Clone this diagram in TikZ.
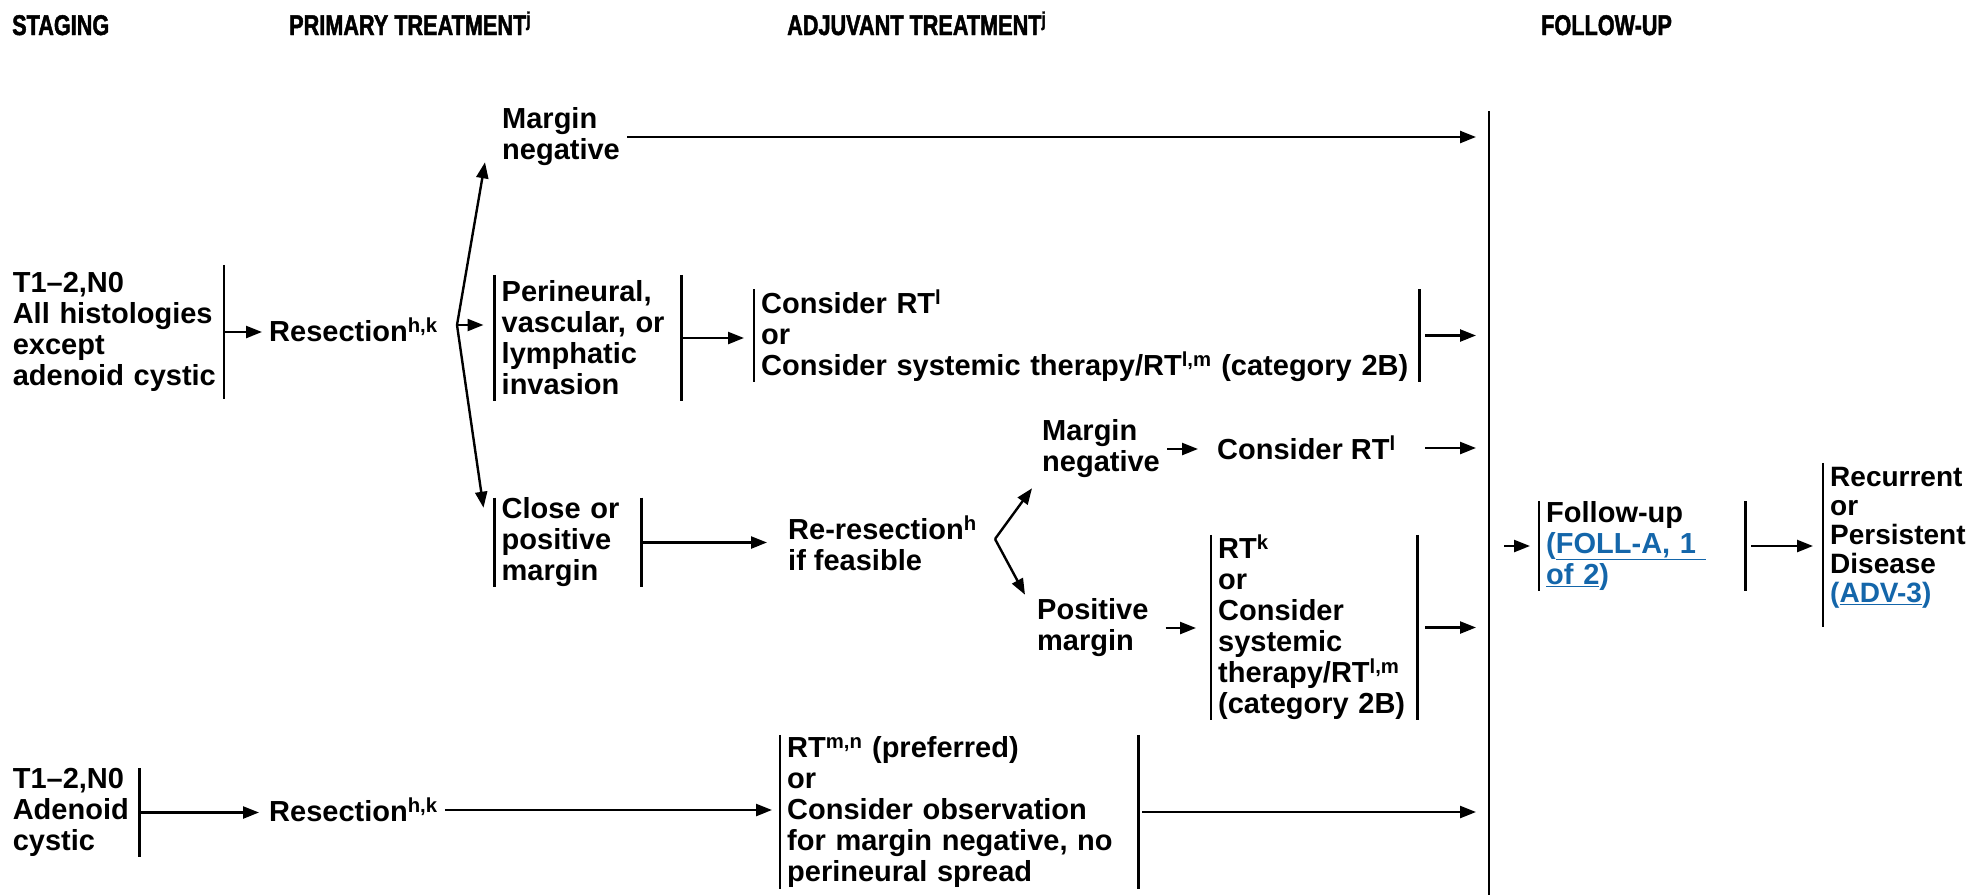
\documentclass[tikz,border=0pt]{standalone}
\usepackage{fontspec}
\setmainfont{Liberation Sans}
\newfontfamily\headfont[FakeStretch=0.76,FakeBold=1.6]{Liberation Sans Bold}
\usepackage{tikz}
\usetikzlibrary{arrows.meta,positioning,calc}
\hyphenpenalty=10000
\exhyphenpenalty=10000
\definecolor{ink}{HTML}{000000}
\definecolor{link}{HTML}{1466AA}
\tikzset{
  txt/.style   ={anchor=west,align=left,inner xsep=7pt,inner ysep=0pt,
                 font=\fontsize{29}{31}\selectfont\bfseries},
  panel/.style ={txt,text width=#1},
  head/.style  ={anchor=base west,inner sep=0pt,font=\headfont\fontsize{28.5}{30}\selectfont},
  bar/.style   ={line width=2.3pt,draw=ink},
  flow/.style  ={-{Triangle[length=16pt,width=12pt]},line width=2.4pt,draw=ink},
  spine/.style ={line width=2.6pt,draw=ink}
}
\newcommand{\lnk}[1]{\textcolor{link}{#1}}

\begin{document}
\begin{tikzpicture}[x=1pt,y=-1pt]
  \useasboundingbox (0,0) rectangle (1978,895);
  % column heads
  \node[head] (hstage) at (12,35) {STAGING};
  \node[head] (hprim) at (289,35) {PRIMARY TREATMENT\textsuperscript{j}};
  \node[head] (hadj) at (787,35) {ADJUVANT TREATMENT\textsuperscript{j}};
  \node[head] (hfol) at (1541,35) {FOLLOW-UP};

  % all histologies except adenoid cystic
  \node[panel=208,inner xsep=3pt,minimum height=134] (stA) at (9.6,332)
    {T1--2,N0\\All histologies\\except\\adenoid cystic};
  \node[txt] (resA) at (262,330) {Resection\textsuperscript{h,k}};
  \node[txt] (mneg1) at (495,137) {Margin\\negative};
  \node[panel=172.5,minimum height=126] (peri) at (494.5,338)
    {Perineural,\\vascular, or\\lymphatic\\invasion};
  \node[panel=651,minimum height=91] (crt) at (754,335.5)
    {Consider RT\textsuperscript{l}\\or\\Consider systemic therapy/RT\textsuperscript{l,m} (category 2B)};
  \node[panel=132.5,minimum height=89] (close) at (494.5,542.5)
    {Close or\\positive\\margin};
  \node[txt] (reres) at (781,543) {Re-resection\textsuperscript{h}\\if feasible};
  \node[txt] (mneg2) at (1035,449) {Margin\\negative};
  \node[txt] (crtl) at (1210,448) {Consider RT\textsuperscript{l}};
  \node[txt] (pos) at (1030,628) {Positive\\margin};
  \node[panel=192,minimum height=183] (rtk) at (1211,627.5)
    {RT\textsuperscript{k}\\or\\Consider\\systemic\\therapy/RT\textsuperscript{l,m}\\(category 2B)};

  % adenoid cystic
  \node[panel=123.4,inner xsep=3pt,minimum height=81] (stB) at (9.6,812.5)
    {T1--2,N0\\Adenoid\\cystic};
  \node[txt] (resB) at (262,810) {Resection\textsuperscript{h,k}};
  \node[panel=344,minimum height=154] (adj) at (780,812)
    {RT\textsuperscript{m,n} (preferred)\\or\\Consider observation\\for margin negative, no\\perineural spread};

  % follow-up
  \node[panel=192,minimum height=82] (fu) at (1539,546)
    {Follow-up\\\lnk{(\underline{FOLL-A, 1 }}\\\lnk{\underline{of 2})}};
  \node[txt,font=\fontsize{28}{29}\selectfont\bfseries,minimum height=164] (rec) at (1823,545)
    {Recurrent\\or\\Persistent\\Disease\\\lnk{(\underline{ADV-3})}\rule[-20pt]{0pt}{1pt}};

  % side bars
  \foreach \n in {peri,crt,close,rtk,adj,fu}
    \draw[bar] (\n.north west) -- (\n.south west) (\n.north east) -- (\n.south east);
  \foreach \n in {stA,stB}
    \draw[bar] (\n.north east) -- (\n.south east);
  \draw[bar] (rec.north west) -- (rec.south west);

  \coordinate (spineTop) at (1489,111);
  \coordinate (spineBot) at (1489,895);
  \coordinate (into) at (1476,0);
  \coordinate (outx) at (1425,0);
  \coordinate (fanA) at (457,325);
  \coordinate (fanB) at (995,539);

  \draw[spine] (spineTop) -- (spineBot);
  \draw[flow] (mneg1.east) -- (mneg1.east -| into);
  \draw[flow] (stA.east) -- (stA.east -| resA.west);
  \draw[flow] (fanA) -- ([xshift=-10pt,yshift=4pt]mneg1.south west);
  \draw[flow] (fanA) -- ([xshift=-11pt,yshift=-10pt]close.north west);
  \draw[flow,shorten >=11pt] (fanA) -- (fanA -| peri.west);
  \draw[flow,shorten >=10pt] (peri.east) -- (peri.east -| crt.west);
  \draw[flow] (crt.east -| outx) -- (crt.east -| into);
  \draw[flow,shorten >=12pt] (mneg2.east) -- (mneg2.east -| crtl.west);
  \draw[flow] (crtl.east -| outx) -- (crtl.east -| into);
  \draw[flow,shorten >=14pt] (close.east) -- (close.east -| reres.west);
  \draw[flow] (fanB) -- ([xshift=-3pt,yshift=-10pt]mneg2.south west);
  \draw[flow] (fanB) -- ([xshift=-5pt,yshift=4pt]pos.north west);
  \draw[flow,shorten <=10pt,shorten >=15pt] (pos.east) -- (pos.east -| rtk.west);
  \draw[flow] (rtk.east -| outx) -- (rtk.east -| into);
  \draw[flow,shorten >=3pt] (stB.east) -- (stB.east -| resB.west);
  \draw[flow,shorten >=8pt] (resB.east) -- (resB.east -| adj.west);
  \draw[flow,shorten <=4pt] (adj.east) -- (adj.east -| into);
  \draw[flow,shorten <=15pt,shorten >=9pt] (fu.west -| spineTop) -- (fu.west);
  \draw[flow,shorten <=6pt,shorten >=10pt] (fu.east) -- (fu.east -| rec.west);
\end{tikzpicture}
\end{document}
